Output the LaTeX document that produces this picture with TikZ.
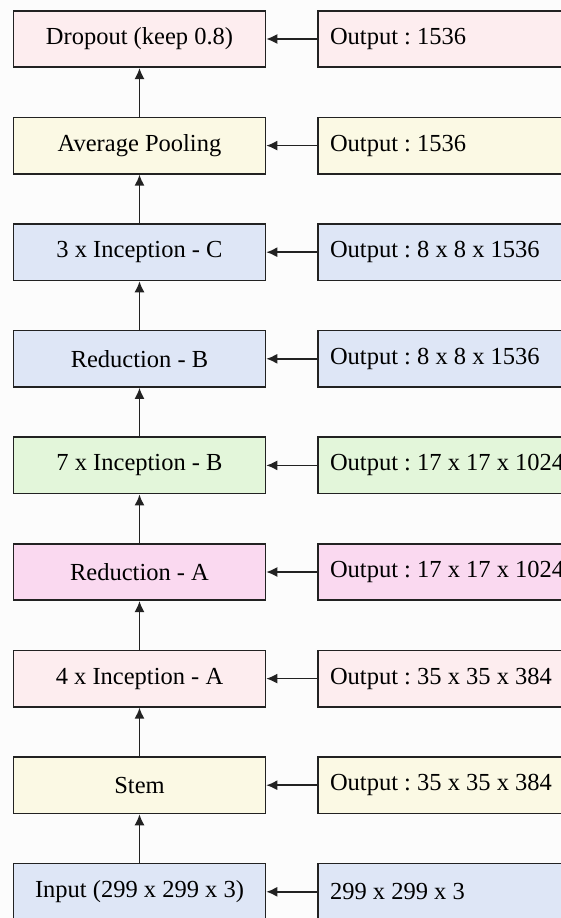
\documentclass[tikz,border=0pt]{standalone}
\usepackage{fontspec}
\setmainfont{Liberation Serif}
\frenchspacing
\usetikzlibrary{arrows.meta}
\definecolor{cPink}{HTML}{FDEDEF}
\definecolor{cYellow}{HTML}{FBF9E4}
\definecolor{cBlue}{HTML}{DEE6F6}
\definecolor{cGreen}{HTML}{E3F6DA}
\definecolor{cMagenta}{HTML}{FAD9F0}
\definecolor{cBg}{HTML}{FCFCFC}
\definecolor{cLine}{HTML}{222222}
\newcommand{\lft}[1]{\makebox[240pt][l]{#1}}
\tikzset{
  blk/.style={draw=cLine, line width=1.6pt, minimum width=252pt, minimum height=56.5pt,
    inner sep=0pt, font=\fontsize{24.5}{28}\selectfont, text=black},
  outblk/.style={blk, inner xsep=12pt},
  conn/.style={line width=1.5pt, draw=cLine, -{Latex[length=11pt,width=10pt]}}
}
\begin{document}
\begin{tikzpicture}[x=1pt,y=1pt]
\fill[cBg] (0,0) rectangle (561,-918);
\useasboundingbox (0,0) rectangle (561,-918);
\clip (0,0) rectangle (561,-918);
\def\p{106.6}
\node[blk, fill=cPink]    (l0) at (139.5,{-39-0*\p}) {Dropout (keep 0.8)};
\node[blk, fill=cYellow]  (l1) at (139.5,{-39-1*\p}) {Average Pooling};
\node[blk, fill=cBlue]    (l2) at (139.5,{-39-2*\p}) {3 x Inception - C};
\node[blk, fill=cBlue]    (l3) at (139.5,{-39-3*\p}) {Reduction - B};
\node[blk, fill=cGreen]   (l4) at (139.5,{-39-4*\p}) {7 x Inception - B};
\node[blk, fill=cMagenta] (l5) at (139.5,{-39-5*\p}) {Reduction - A};
\node[blk, fill=cPink]    (l6) at (139.5,{-39-6*\p}) {4 x Inception - A};
\node[blk, fill=cYellow]  (l7) at (139.5,{-39-7*\p}) {Stem};
\node[blk, fill=cBlue]    (l8) at (139.5,{-39-8*\p}) {Input (299 x 299 x 3)};
\node[outblk, fill=cPink]    (r0) at (450,{-39-0*\p}) {\lft{Output : 1536}};
\node[outblk, fill=cYellow]  (r1) at (450,{-39-1*\p}) {\lft{Output : 1536}};
\node[outblk, fill=cBlue]    (r2) at (450,{-39-2*\p}) {\lft{Output : 8 x 8 x 1536}};
\node[outblk, fill=cBlue]    (r3) at (450,{-39-3*\p}) {\lft{Output : 8 x 8 x 1536}};
\node[outblk, fill=cGreen]   (r4) at (450,{-39-4*\p}) {\lft{Output : 17 x 17 x 1024}};
\node[outblk, fill=cMagenta] (r5) at (450,{-39-5*\p}) {\lft{Output : 17 x 17 x 1024}};
\node[outblk, fill=cPink]    (r6) at (450,{-39-6*\p}) {\lft{Output : 35 x 35 x 384}};
\node[outblk, fill=cYellow]  (r7) at (450,{-39-7*\p}) {\lft{Output : 35 x 35 x 384}};
\node[outblk, fill=cBlue]    (r8) at (450,{-39-8*\p}) {\lft{299 x 299 x 3}};
\foreach \i in {0,...,8} {\draw[conn] (r\i.west) -- (l\i.east);}
\foreach \i/\j in {1/0,2/1,3/2,4/3,5/4,6/5,7/6,8/7} {\draw[conn] (l\i.north) -- (l\j.south);}
\end{tikzpicture}
\end{document}
